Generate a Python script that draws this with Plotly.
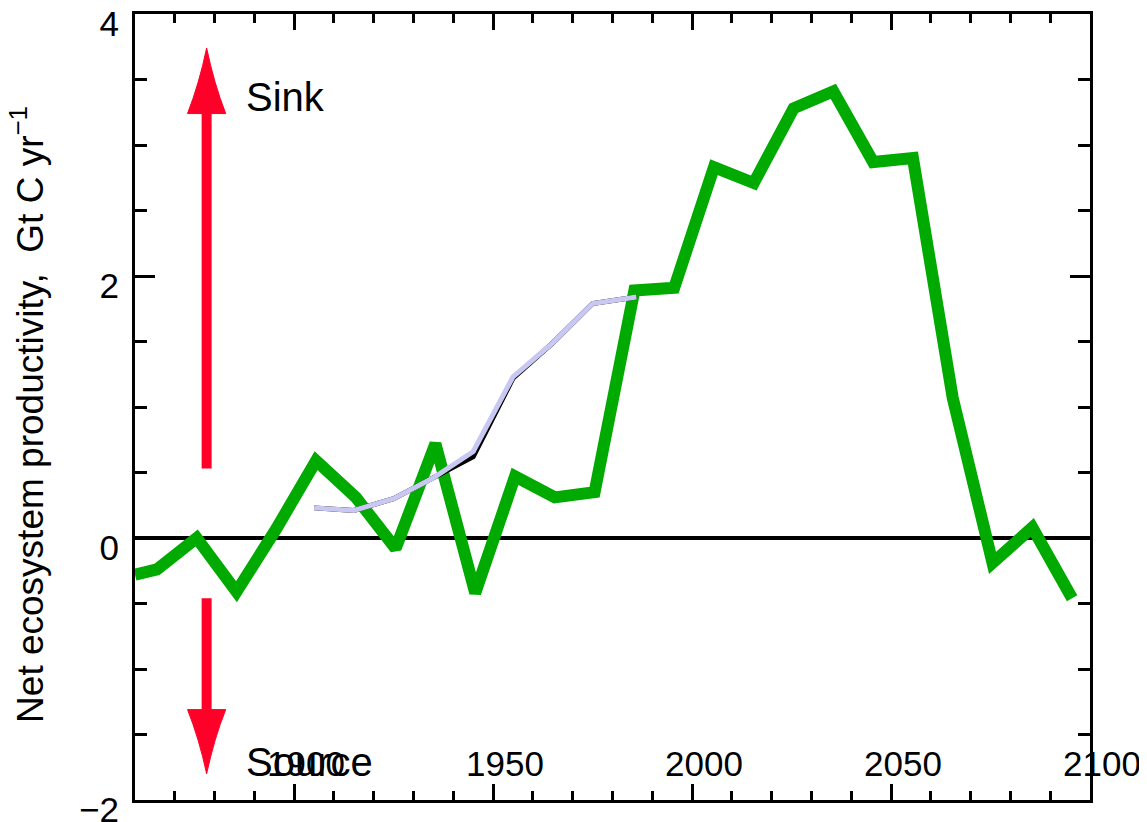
import plotly.graph_objects as go

FONT = "Liberation Sans, Arial, sans-serif"

# Modelled net ecosystem productivity (green)
green_years = [1860, 1865.5, 1875.5, 1885.5, 1895.5, 1905.5, 1915.5, 1925.5, 1935.5,
               1945.5, 1955.5, 1965.5, 1975.5, 1985.5, 1995.5, 2005.5, 2015.5, 2025.5,
               2035.5, 2045.5, 2055.5, 2065.5, 2075.5, 2085.5, 2095.5]
green_nep = [-0.28, -0.24, 0.0, -0.41, 0.07, 0.59, 0.31, -0.08, 0.72,
             -0.42, 0.47, 0.31, 0.35, 1.89, 1.91, 2.83, 2.71, 3.28,
             3.41, 2.87, 2.90, 1.07, -0.19, 0.08, -0.46]

# Estimate line (black, with lavender overlay)
est_years = [1905, 1915, 1925, 1935, 1945, 1955, 1965, 1975, 1986]
est_black = [0.23, 0.21, 0.30, 0.46, 0.62, 1.22, 1.49, 1.79, 1.84]
est_lavender = [0.23, 0.21, 0.30, 0.46, 0.66, 1.23, 1.49, 1.79, 1.84]

# Sink / source arrows
arrow_year = 1878
sink_arrow = [0.53, 3.24, 3.74]     # shaft start, head base, tip
source_arrow = [-0.46, -1.31, -1.80]
arrow_half = 4.8                    # half width of head, years

x_ticks = [1900, 1950, 2000, 2050, 2100]
x_labels = ["1900", "1950", "2000", "2050", "2100"]
y_ticks = [-2, 0, 2, 4]
y_labels = ["\u22122", "0", "2", "4"]

RED = "rgb(255,0,40)"

fig = go.Figure()

fig.add_trace(go.Scatter(x=green_years, y=green_nep, mode="lines",
                         line=dict(color="rgb(0,170,0)", width=12),
                         showlegend=False))
fig.add_trace(go.Scatter(x=est_years, y=est_black, mode="lines",
                         line=dict(color="black", width=5),
                         showlegend=False))
fig.add_trace(go.Scatter(x=est_years, y=est_lavender, mode="lines",
                         line=dict(color="rgb(200,200,242)", width=5),
                         showlegend=False))

# arrows: shaft as a line, head as a filled, slightly concave triangle
for a in (sink_arrow, source_arrow):
    start, base, tip = a
    fig.add_shape(type="line", x0=arrow_year, x1=arrow_year, y0=start, y1=base,
                  line=dict(color=RED, width=10))
    ctrl = base + (tip - base) * 0.45
    path = (f"M {arrow_year - arrow_half},{base} "
            f"Q {arrow_year - 1.9},{ctrl} {arrow_year},{tip} "
            f"Q {arrow_year + 1.9},{ctrl} {arrow_year + arrow_half},{base} Z")
    fig.add_shape(type="path", path=path, fillcolor=RED, line=dict(color=RED, width=1))

fig.add_annotation(x=1887.5, y=3.37, text="Sink", showarrow=False,
                   xanchor="left", yanchor="middle", font=dict(size=40, color="black"))
fig.add_annotation(x=1887.5, y=-1.71, text="Source", showarrow=False,
                   xanchor="left", yanchor="middle", font=dict(size=40, color="black"))

# x tick labels sit inside the frame, nudged right
for xv, lab in zip(x_ticks, x_labels):
    fig.add_annotation(x=xv, y=0, xref="x", yref="paper", text=lab, showarrow=False,
                       xanchor="center", yanchor="middle", xshift=12, yshift=37,
                       font=dict(size=35, color="black"))

fig.add_annotation(x=-0.112, y=0.49, xref="paper", yref="paper", textangle=-90,
                   text="Net ecosystem productivity,  Gt C yr<sup>\u22121</sup>",
                   showarrow=False, xanchor="center", yanchor="middle",
                   font=dict(size=37, color="black"))

# the page body adds an 8 px offset, so the figure is sized to fit the window
fig.update_layout(
    width=1139, height=814,
    margin=dict(l=127, r=57, t=6, b=22),
    plot_bgcolor="white", paper_bgcolor="white",
    font=dict(family=FONT, color="black"),
    xaxis=dict(
        range=[1860, 2100], showgrid=False, zeroline=False, automargin=False,
        showline=True, linecolor="black", linewidth=3, mirror="allticks",
        ticks="inside", tickvals=x_ticks, ticklen=16, tickwidth=3, tickcolor="black",
        showticklabels=False,
        minor=dict(dtick=10, tick0=1860, ticks="inside", ticklen=9, tickwidth=3,
                   tickcolor="black", showgrid=False),
    ),
    yaxis=dict(
        range=[-2, 4], showgrid=False, automargin=False,
        zeroline=True, zerolinecolor="black", zerolinewidth=4,
        showline=True, linecolor="black", linewidth=3, mirror="allticks",
        ticks="inside", tickvals=y_ticks, ticktext=y_labels, ticklen=20, tickwidth=3,
        tickcolor="black", tickfont=dict(size=35, color="black"),
        ticklabelshift=10, ticklabelstandoff=6, ticklabeloverflow="allow",
        minor=dict(dtick=0.5, tick0=0, ticks="inside", ticklen=12, tickwidth=3,
                   tickcolor="black", showgrid=False),
    ),
)

fig.write_html("out.html")
